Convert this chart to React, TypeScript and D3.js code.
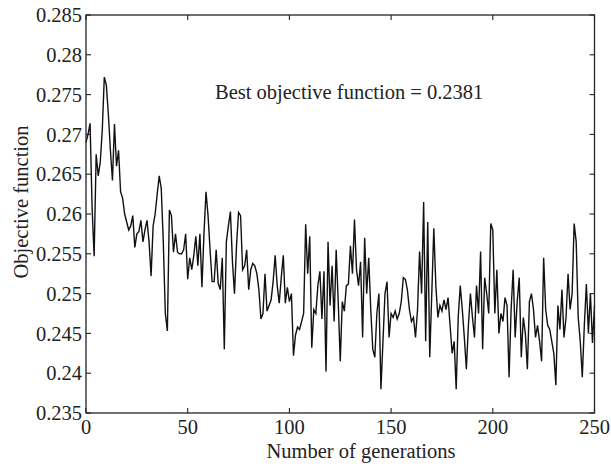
import React from "react";
import * as d3 from "d3";

const values: number[] = [
  0.2690, 0.2700, 0.2714, 0.2608, 0.2547, 0.2675, 0.2648, 0.2665, 0.2705, 0.2772,
  0.2762, 0.2725, 0.2680, 0.2642, 0.2713, 0.2660, 0.2680, 0.2628, 0.2620, 0.2600,
  0.2590, 0.2580, 0.2585, 0.2598, 0.2558, 0.2575, 0.2578, 0.2592, 0.2565, 0.2580,
  0.2592, 0.2565, 0.2522, 0.2585, 0.2600, 0.2625, 0.2648, 0.2632, 0.2565, 0.2475,
  0.2453, 0.2605, 0.2598, 0.2552, 0.2575, 0.2552, 0.2550, 0.2550, 0.2555, 0.2575,
  0.2518, 0.2545, 0.2530, 0.2548, 0.2572, 0.2535, 0.2575, 0.2508, 0.2575, 0.2628,
  0.2598, 0.2555, 0.2515, 0.2515, 0.2555, 0.2513, 0.2505, 0.2545, 0.2430, 0.2565,
  0.2585, 0.2603, 0.2540, 0.2500, 0.2560, 0.2602, 0.2598, 0.2530, 0.2535, 0.2555,
  0.2505, 0.2530, 0.2538, 0.2535, 0.2525, 0.2505, 0.2468, 0.2475, 0.2525, 0.2478,
  0.2485, 0.2492, 0.2515, 0.2548, 0.2510, 0.2488, 0.2520, 0.2548, 0.2488, 0.2508,
  0.2490, 0.2500, 0.2422, 0.2448, 0.2458, 0.2455, 0.2465, 0.2475, 0.2587, 0.2525,
  0.2572, 0.2432, 0.2480, 0.2475, 0.2510, 0.2528, 0.2468, 0.2528, 0.2402, 0.2565,
  0.2485, 0.2535, 0.2465, 0.2555, 0.2490, 0.2415, 0.2490, 0.2478, 0.2510, 0.2512,
  0.2560, 0.2525, 0.2593, 0.2530, 0.2510, 0.2540, 0.2445, 0.2570, 0.2500, 0.2545,
  0.2480, 0.2430, 0.2420, 0.2475, 0.2500, 0.2380, 0.2440, 0.2500, 0.2515, 0.2445,
  0.2475, 0.2470, 0.2478, 0.2468, 0.2475, 0.2490, 0.2520, 0.2518, 0.2505, 0.2480,
  0.2465, 0.2470, 0.2445, 0.2480, 0.2553, 0.2500, 0.2615, 0.2440, 0.2590, 0.2420,
  0.2500, 0.2582, 0.2510, 0.2470, 0.2485, 0.2478, 0.2492, 0.2480, 0.2495, 0.2460,
  0.2425, 0.2440, 0.2380, 0.2470, 0.2510, 0.2480, 0.2445, 0.2405, 0.2460, 0.2500,
  0.2470, 0.2445, 0.2510, 0.2475, 0.2553, 0.2430, 0.2520, 0.2500, 0.2475, 0.2588,
  0.2580, 0.2475, 0.2530, 0.2450, 0.2475, 0.2465, 0.2495, 0.2485, 0.2395, 0.2480,
  0.2530, 0.2445, 0.2490, 0.2520, 0.2420, 0.2470, 0.2450, 0.2405, 0.2490, 0.2500,
  0.2480, 0.2445, 0.2460, 0.2440, 0.2415, 0.2545, 0.2480, 0.2460, 0.2455, 0.2440,
  0.2425, 0.2385, 0.2485, 0.2455, 0.2505, 0.2445, 0.2470, 0.2525, 0.2480, 0.2500,
  0.2588, 0.2565, 0.2470, 0.2440, 0.2395, 0.2460, 0.2512, 0.2450, 0.2500, 0.2438,
  0.2485,
];

const xTicks: number[] = [0, 50, 100, 150, 200, 250];
const yTicks: number[] = [0.235, 0.24, 0.245, 0.25, 0.255, 0.26, 0.265, 0.27, 0.275, 0.28, 0.285];
const yTickLabels: string[] = ["0.235", "0.24", "0.245", "0.25", "0.255", "0.26", "0.265", "0.27", "0.275", "0.28", "0.285"];
const annotation = "Best objective function = 0.2381";
const xLabel = "Number of generations";
const yLabel = "Objective function";

const W = 611;
const H = 469;
const L = 86;
const R = 594.5;
const T = 15;
const B = 413;
const FONT = "'Liberation Serif', 'Times New Roman', serif";
const FS = 20.5;
const TICK = 5;

export default function App() {
  const x = d3.scaleLinear().domain([0, 250]).range([L, R]);
  const y = d3.scaleLinear().domain([0.235, 0.285]).range([B, T]);
  const line = d3
    .line<number>()
    .x((_, i) => x(i))
    .y((d) => y(d));

  return (
    <svg
      width={W}
      height={H}
      style={{ position: "absolute", left: 0, top: 0, background: "#fff" }}
      fontFamily={FONT}
    >
      <rect x={0} y={0} width={W} height={H} fill="#fff" />
      <path d={line(values) || ""} fill="none" stroke="#111" strokeWidth={1.4} strokeLinejoin="miter" />
      <rect x={L} y={T} width={R - L} height={B - T} fill="none" stroke="#222" strokeWidth={1.3} />
      {xTicks.map((t) => (
        <g key={"x" + t}>
          <line x1={x(t)} x2={x(t)} y1={B} y2={B - TICK} stroke="#222" strokeWidth={1.1} />
          <line x1={x(t)} x2={x(t)} y1={T} y2={T + TICK} stroke="#222" strokeWidth={1.1} />
          <text x={x(t)} y={433.5} textAnchor="middle" fontSize={FS} fill="#222">
            {t}
          </text>
        </g>
      ))}
      {yTicks.map((t, i) => (
        <g key={"y" + t}>
          <line x1={L} x2={L + TICK} y1={y(t)} y2={y(t)} stroke="#222" strokeWidth={1.1} />
          <line x1={R} x2={R - TICK} y1={y(t)} y2={y(t)} stroke="#222" strokeWidth={1.1} />
          <text x={82} y={y(t)} dy="0.35em" textAnchor="end" fontSize={FS} fill="#222">
            {yTickLabels[i]}
          </text>
        </g>
      ))}
      <text x={361} y={458} textAnchor="middle" fontSize={FS} fill="#222">
        {xLabel}
      </text>
      <text
        transform={`translate(28, 202) rotate(-90)`}
        textAnchor="middle"
        fontSize={FS}
        fill="#222"
      >
        {yLabel}
      </text>
      <text x={215} y={99} fontSize={FS} fill="#222">
        {annotation}
      </text>
    </svg>
  );
}
